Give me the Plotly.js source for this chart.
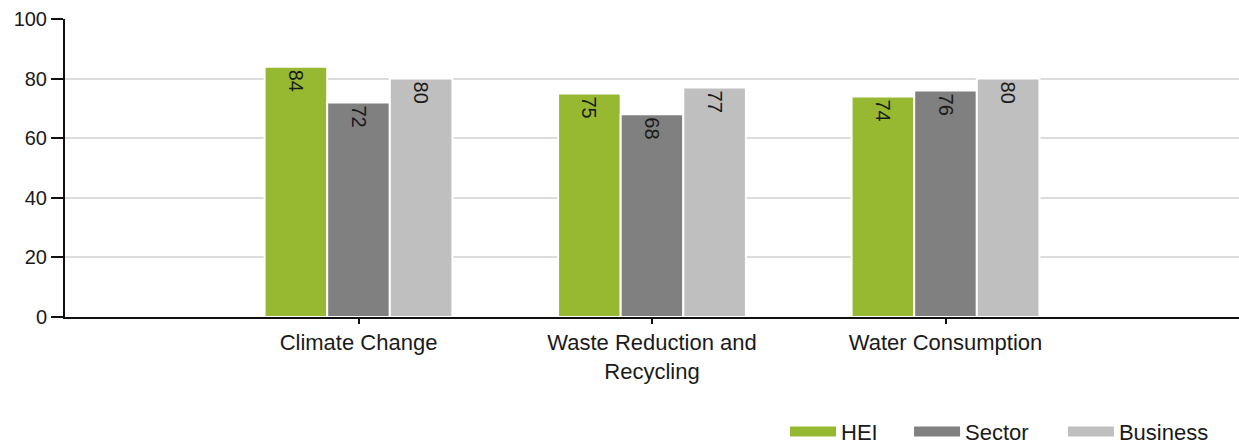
<!DOCTYPE html>
<html>
<head>
<meta charset="utf-8">
<script src="https://cdn.plot.ly/plotly-3.0.1.min.js"></script>
<style>html,body{margin:0;padding:0;background:#fff;}#chart{width:1239px;height:445px;}</style>
</head>
<body>
<div id="chart"></div>
<script>
const categories = ["Climate Change", "Waste Reduction and<br>Recycling", "Water Consumption"];
const seriesNames = ["HEI", "Sector", "Business"];
const hei = [84, 75, 74];
const sector = [72, 68, 76];
const business = [80, 77, 80];
const colors = ["#97b932", "#808080", "#bfbfbf"];
const yTicks = [0, 20, 40, 60, 80, 100];

const values = [hei, sector, business];
const traces = values.map((v, i) => ({
  type: "bar",
  name: seriesNames[i],
  x: categories,
  y: v,
  marker: {color: colors[i], line: {color: "#ffffff", width: 2}},
  text: v.map(String),
  textposition: "inside",
  insidetextanchor: "end",
  textangle: 90,
  textfont: {family: "Liberation Sans, Arial, sans-serif", size: 20, color: "#1a1a1a"},
  constraintext: "none",
  showlegend: false,
  hoverinfo: "skip"
}));
// legend swatches, one legend each so they can be spaced like the original
const legendIds = ["legend", "legend2", "legend3"];
seriesNames.forEach((n, i) => {
  traces.push({
    type: "scatter", mode: "lines", name: n,
    x: [null], y: [null],
    line: {color: colors[i], width: 15},
    showlegend: true, hoverinfo: "skip",
    legend: legendIds[i]
  });
});

const legendX = [0.6336, 0.7337, 0.8579];
function legendCfg(x) {
  return {
    orientation: "h",
    xref: "container", yref: "container",
    x: x, xanchor: "left",
    y: 0.03, yanchor: "middle",
    font: {size: 22, color: "#1a1a1a"},
    itemwidth: 46,
    bgcolor: "rgba(0,0,0,0)"
  };
}

const layout = {
  width: 1239, height: 445,
  margin: {l: 65, r: 0, t: 19, b: 128},
  paper_bgcolor: "#ffffff", plot_bgcolor: "#ffffff",
  font: {family: "Liberation Sans, Arial, sans-serif", size: 20, color: "#1a1a1a"},
  barmode: "group",
  bargap: 0.36,
  bargroupgap: 0,
  xaxis: {
    type: "category",
    categoryorder: "array", categoryarray: categories,
    range: [-1, 3],
    showline: true, linecolor: "#111111", linewidth: 2,
    ticks: "outside", ticklen: 5, tickwidth: 2, tickcolor: "#111111",
    showgrid: false, zeroline: false,
    tickfont: {size: 22, color: "#1a1a1a"},
    fixedrange: true
  },
  yaxis: {
    range: [0, 100],
    tickvals: yTicks,
    showline: true, linecolor: "#111111", linewidth: 2,
    ticks: "outside", ticklen: 12, tickwidth: 2, tickcolor: "#111111",
    showgrid: true, gridcolor: "#dcdcdc", gridwidth: 2,
    zeroline: false,
    tickfont: {size: 20, color: "#1a1a1a"},
    fixedrange: true
  },
  legend: legendCfg(legendX[0]),
  legend2: legendCfg(legendX[1]),
  legend3: legendCfg(legendX[2]),
  showlegend: true
};

Plotly.newPlot("chart", traces, layout, {displayModeBar: false, staticPlot: true});
</script>
</body>
</html>
